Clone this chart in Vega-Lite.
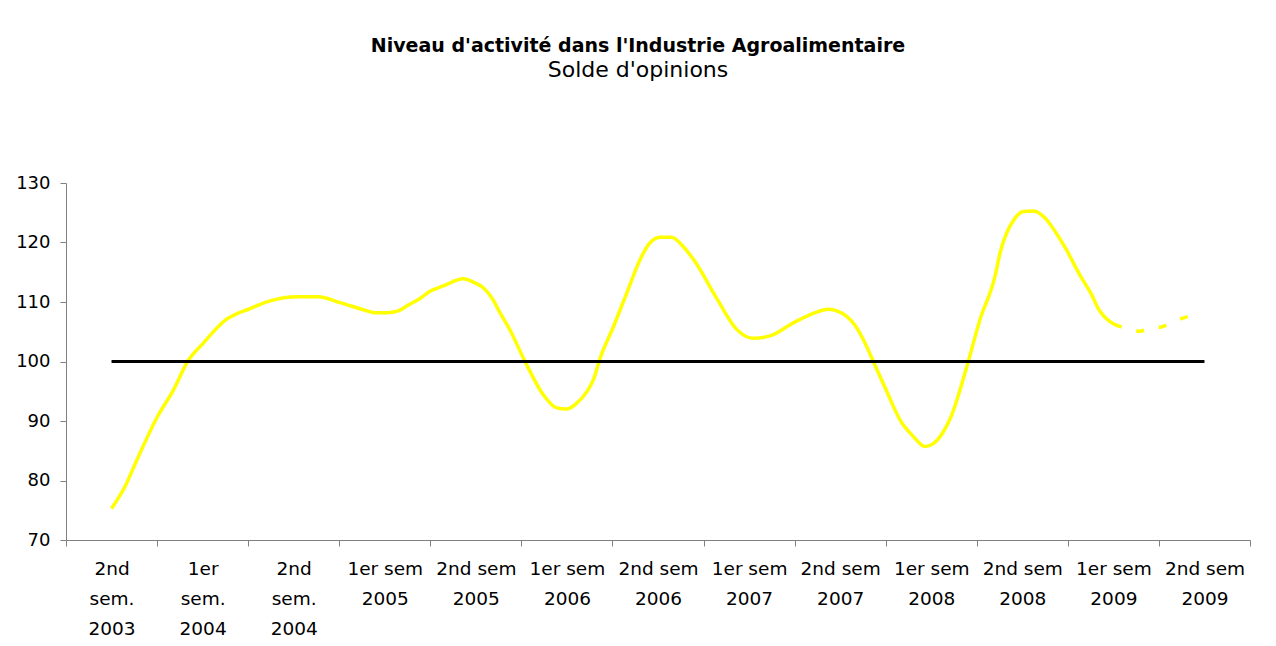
{
  "$schema": "https://vega.github.io/schema/vega-lite/v6.json",
  "autosize": {"type": "none"},
  "padding": {"left": 66, "top": 183, "right": 26, "bottom": 106},
  "width": 1184,
  "height": 357,
  "background": "white",
  "title": {
    "text": "Niveau d'activité dans l'Industrie Agroalimentaire",
    "subtitle": "Solde d'opinions",
    "anchor": "middle",
    "dx": -20,
    "offset": 93,
    "font": "DejaVu Sans",
    "fontSize": 19,
    "fontWeight": "bold",
    "color": "black",
    "subtitleFont": "DejaVu Sans",
    "subtitleFontSize": 22,
    "subtitleColor": "black",
    "subtitlePadding": 4
  },
  "data": {
    "values": [
      {"t": 0, "v": 75.3, "serie": "solide"},
      {"t": 0.148, "v": 79.0, "serie": "solide"},
      {"t": 0.277, "v": 83.4, "serie": "solide"},
      {"t": 0.496, "v": 90.5, "serie": "solide"},
      {"t": 0.679, "v": 95.2, "serie": "solide"},
      {"t": 0.843, "v": 100.2, "serie": "solide"},
      {"t": 1.008, "v": 103.1, "serie": "solide"},
      {"t": 1.246, "v": 106.9, "serie": "solide"},
      {"t": 1.521, "v": 108.9, "serie": "solide"},
      {"t": 1.740, "v": 110.2, "serie": "solide"},
      {"t": 2.033, "v": 110.9, "serie": "solide"},
      {"t": 2.271, "v": 110.9, "serie": "solide"},
      {"t": 2.509, "v": 109.9, "serie": "solide"},
      {"t": 2.765, "v": 108.7, "serie": "solide"},
      {"t": 2.893, "v": 108.2, "serie": "solide"},
      {"t": 3.022, "v": 108.2, "serie": "solide"},
      {"t": 3.149, "v": 108.5, "serie": "solide"},
      {"t": 3.259, "v": 109.5, "serie": "solide"},
      {"t": 3.387, "v": 110.6, "serie": "solide"},
      {"t": 3.497, "v": 111.8, "serie": "solide"},
      {"t": 3.643, "v": 112.7, "serie": "solide"},
      {"t": 3.863, "v": 113.9, "serie": "solide"},
      {"t": 3.991, "v": 113.2, "serie": "solide"},
      {"t": 4.082, "v": 112.4, "serie": "solide"},
      {"t": 4.192, "v": 110.3, "serie": "solide"},
      {"t": 4.247, "v": 108.7, "serie": "solide"},
      {"t": 4.375, "v": 105.3, "serie": "solide"},
      {"t": 4.540, "v": 100.0, "serie": "solide"},
      {"t": 4.741, "v": 94.4, "serie": "solide"},
      {"t": 4.888, "v": 92.2, "serie": "solide"},
      {"t": 4.998, "v": 92.0, "serie": "solide"},
      {"t": 5.108, "v": 93.0, "serie": "solide"},
      {"t": 5.217, "v": 94.9, "serie": "solide"},
      {"t": 5.290, "v": 96.9, "serie": "solide"},
      {"t": 5.363, "v": 100.5, "serie": "solide"},
      {"t": 5.509, "v": 105.8, "serie": "solide"},
      {"t": 5.657, "v": 111.5, "serie": "solide"},
      {"t": 5.803, "v": 117.1, "serie": "solide"},
      {"t": 5.894, "v": 119.6, "serie": "solide"},
      {"t": 6.022, "v": 120.9, "serie": "solide"},
      {"t": 6.151, "v": 120.9, "serie": "solide"},
      {"t": 6.260, "v": 119.6, "serie": "solide"},
      {"t": 6.406, "v": 116.8, "serie": "solide"},
      {"t": 6.645, "v": 110.6, "serie": "solide"},
      {"t": 6.864, "v": 105.4, "serie": "solide"},
      {"t": 7.047, "v": 103.9, "serie": "solide"},
      {"t": 7.230, "v": 104.3, "serie": "solide"},
      {"t": 7.486, "v": 106.5, "serie": "solide"},
      {"t": 7.705, "v": 108.1, "serie": "solide"},
      {"t": 7.870, "v": 108.8, "serie": "solide"},
      {"t": 8.072, "v": 107.6, "serie": "solide"},
      {"t": 8.163, "v": 106.1, "serie": "solide"},
      {"t": 8.292, "v": 102.5, "serie": "solide"},
      {"t": 8.364, "v": 100.0, "serie": "solide"},
      {"t": 8.511, "v": 95.0, "serie": "solide"},
      {"t": 8.657, "v": 90.2, "serie": "solide"},
      {"t": 8.803, "v": 87.4, "serie": "solide"},
      {"t": 8.932, "v": 85.7, "serie": "solide"},
      {"t": 9.023, "v": 86.2, "serie": "solide"},
      {"t": 9.133, "v": 88.2, "serie": "solide"},
      {"t": 9.225, "v": 91.0, "serie": "solide"},
      {"t": 9.316, "v": 95.2, "serie": "solide"},
      {"t": 9.407, "v": 100.0, "serie": "solide"},
      {"t": 9.535, "v": 107.0, "serie": "solide"},
      {"t": 9.700, "v": 114.3, "serie": "solide"},
      {"t": 9.755, "v": 118.2, "serie": "solide"},
      {"t": 9.920, "v": 124.1, "serie": "solide"},
      {"t": 10.011, "v": 125.2, "serie": "solide"},
      {"t": 10.121, "v": 125.3, "serie": "solide"},
      {"t": 10.268, "v": 123.8, "serie": "solide"},
      {"t": 10.323, "v": 122.7, "serie": "solide"},
      {"t": 10.487, "v": 118.7, "serie": "solide"},
      {"t": 10.633, "v": 114.5, "serie": "solide"},
      {"t": 10.762, "v": 111.2, "serie": "solide"},
      {"t": 10.834, "v": 108.9, "serie": "solide"},
      {"t": 10.963, "v": 106.7, "serie": "solide"},
      {"t": 11.091, "v": 105.8, "serie": "solide"},
      {"t": 11.091, "v": 105.8, "serie": "prevision"},
      {"t": 11.292, "v": 105.1, "serie": "prevision"},
      {"t": 11.366, "v": 105.4, "serie": "prevision"},
      {"t": 11.548, "v": 105.9, "serie": "prevision"},
      {"t": 11.622, "v": 106.4, "serie": "prevision"},
      {"t": 11.805, "v": 107.5, "serie": "prevision"},
      {"t": 11.904, "v": 107.8, "serie": "prevision"},
      {"t": 0, "v": 100, "serie": "reference"},
      {"t": 1, "v": 100, "serie": "reference"},
      {"t": 2, "v": 100, "serie": "reference"},
      {"t": 3, "v": 100, "serie": "reference"},
      {"t": 4, "v": 100, "serie": "reference"},
      {"t": 5, "v": 100, "serie": "reference"},
      {"t": 6, "v": 100, "serie": "reference"},
      {"t": 7, "v": 100, "serie": "reference"},
      {"t": 8, "v": 100, "serie": "reference"},
      {"t": 9, "v": 100, "serie": "reference"},
      {"t": 10, "v": 100, "serie": "reference"},
      {"t": 11, "v": 100, "serie": "reference"},
      {"t": 12, "v": 100, "serie": "reference"}
    ]
  },
  "encoding": {
    "x": {
      "field": "t",
      "type": "quantitative",
      "title": null,
      "scale": {"domain": [-0.5, 12.5], "nice": false, "zero": false},
      "axis": {
        "values": [-0.5, 0.5, 1.5, 2.5, 3.5, 4.5, 5.5, 6.5, 7.5, 8.5, 9.5, 10.5, 11.5, 12.5],
        "labelExpr": "split(['2nd|sem.|2003','1er|sem.|2004','2nd|sem.|2004','1er sem|2005','2nd sem|2005','1er sem|2006','2nd sem|2006','1er sem|2007','2nd sem|2007','1er sem|2008','2nd sem|2008','1er sem|2009','2nd sem|2009',''][datum.value + 0.5], '|')",
        "labelOffset": 45.54,
        "labelAlign": "center",
        "labelBaseline": "top",
        "labelPadding": 13,
        "labelLineHeight": 30,
        "labelOverlap": false,
        "labelBound": false,
        "labelFlush": false,
        "labelFont": "DejaVu Sans",
        "labelFontSize": 18.5,
        "labelColor": "black",
        "tickSize": 6,
        "tickColor": "#808080",
        "domainColor": "#808080",
        "grid": false
      }
    },
    "y": {
      "field": "v",
      "type": "quantitative",
      "title": null,
      "scale": {"domain": [70, 130], "nice": false, "zero": false},
      "axis": {
        "values": [70, 80, 90, 100, 110, 120, 130],
        "labelFont": "DejaVu Sans",
        "labelFontSize": 18,
        "labelColor": "black",
        "labelPadding": 10,
        "tickSize": 6,
        "tickColor": "#808080",
        "domainColor": "#808080",
        "grid": false
      }
    }
  },
  "layer": [
    {
      "transform": [{"filter": "datum.serie === 'solide'"}],
      "mark": {"type": "line", "color": "#FFFF00", "strokeWidth": 3.5, "interpolate": "monotone"}
    },
    {
      "transform": [{"filter": "datum.serie === 'prevision'"}],
      "mark": {"type": "line", "color": "#FFFF00", "strokeWidth": 3.5, "interpolate": "monotone", "strokeDash": [8, 15], "strokeDashOffset": 8}
    },
    {
      "transform": [{"filter": "datum.serie === 'reference'"}],
      "mark": {"type": "line", "color": "black", "strokeWidth": 3.2}
    }
  ],
  "config": {
    "view": {"stroke": null}
  }
}
